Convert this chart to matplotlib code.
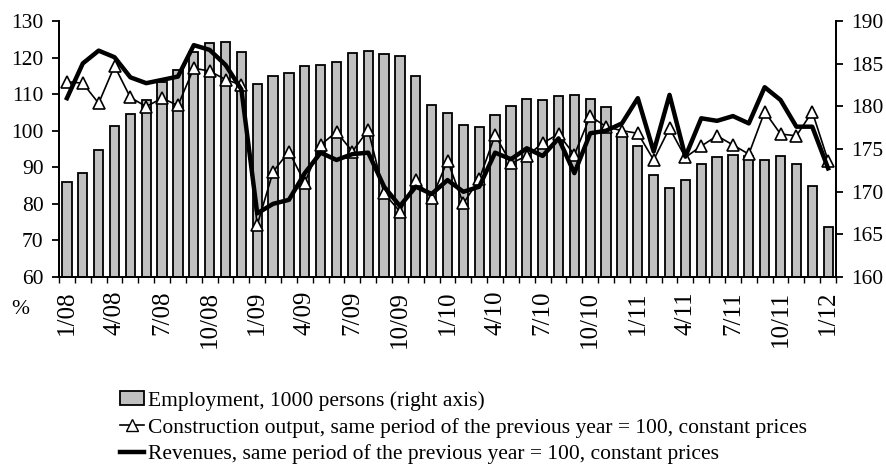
import matplotlib.pyplot as plt
import numpy as np
from matplotlib.patches import Patch
from matplotlib.lines import Line2D

plt.rcParams['font.family'] = ['Liberation Serif', 'DejaVu Serif']

# months 1/08 .. 1/12
months = [f"{m}/{y:02d}" for y in range(8, 12) for m in range(1, 13)] + ["1/12"]

# employment, 1000 persons (right axis)
employment = [171.1, 172.2, 174.9, 177.7, 179.1, 180.7, 182.9, 184.3, 186.4, 187.4,
              187.5, 186.4, 182.6, 183.5, 183.9, 184.7, 184.8, 185.2, 186.2, 186.5,
              186.1, 185.9, 183.6, 180.2, 179.2, 177.8, 177.6, 179.0, 180.0, 180.9,
              180.8, 181.2, 181.3, 180.9, 179.9, 176.7, 175.4, 172.0, 170.4, 171.4,
              173.2, 174.1, 174.3, 174.2, 173.7, 174.2, 173.2, 170.7, 165.9]

# construction output, same period previous year = 100
construction = [113.4, 113.0, 107.5, 117.7, 109.1, 106.6, 108.9, 106.9, 117.1, 116.3,
                114.0, 112.5, 74.2, 88.8, 94.3, 85.8, 96.1, 99.7, 94.3, 100.2,
                82.9, 77.9, 86.5, 81.5, 91.8, 80.1, 86.7, 98.8, 91.1, 93.1,
                96.6, 99.1, 93.4, 104.0, 101.1, 100.0, 99.3, 92.0, 100.7, 92.7,
                95.8, 98.6, 96.1, 93.6, 105.2, 99.1, 98.6, 105.2, 91.8]

# revenues, same period previous year = 100
revenues = [108.9, 118.4, 121.9, 120.1, 114.6, 113.0, 113.9, 114.8, 123.4, 122.1,
            118.0, 111.3, 77.4, 80.0, 81.1, 88.4, 94.0, 92.0, 93.6, 94.0,
            84.7, 79.4, 84.7, 82.7, 86.5, 83.3, 84.7, 94.0, 92.2, 95.2,
            93.1, 97.9, 88.4, 99.3, 100.0, 102.0, 108.9, 94.3, 109.8, 92.9,
            103.4, 102.7, 104.0, 102.0, 111.9, 108.4, 101.1, 101.1, 89.7]

x = np.arange(len(months))

fig = plt.figure(figsize=(8.86, 4.73), dpi=100)
ax = fig.add_axes([0.0666, 0.4144, 0.877, 0.5412])
ax2 = ax.twinx()

ax2.bar(x, employment, width=0.58, color='#c0c0c0', edgecolor='black', linewidth=1.3)
ax2.set_ylim(160, 190)
ax2.set_yticks(range(160, 191, 5))

ax.plot(x, construction, color='black', linewidth=1.2, marker='^', markersize=8.5,
        markerfacecolor='white', markeredgecolor='black', markeredgewidth=1.2)
ax.plot(x, revenues, color='black', linewidth=3.2)
ax.set_ylim(60, 130)
ax.set_yticks(range(60, 131, 10))
ax.set_xlim(-0.5, len(months) - 0.5)

ax.set_zorder(ax2.get_zorder() + 1)
ax.patch.set_visible(False)

for a in (ax, ax2):
    a.spines['top'].set_visible(False)
    for s in a.spines.values():
        s.set_linewidth(1.3)

ax.set_xticks(x[::3])
ax.set_xticklabels(months[::3], rotation=90, fontsize=18)
ax.set_xticks(np.arange(-0.5, len(months), 1), minor=True)
ax.tick_params(axis='x', which='major', length=0, pad=10)
ax.tick_params(axis='x', which='minor', length=4, width=1)
ax.tick_params(axis='y', labelsize=15.5, length=5, width=1.3, pad=6)
ax2.tick_params(axis='y', labelsize=15.5, length=5, width=1.3, pad=6)

fig.text(0.0226, 0.3467, '%', fontsize=15.5, ha='center', va='center')

handles = [
    Patch(facecolor='#c0c0c0', edgecolor='black', linewidth=1.3),
    Line2D([], [], color='black', linewidth=1.2, marker='^', markersize=8.5,
           markerfacecolor='white', markeredgecolor='black'),
    Line2D([], [], color='black', linewidth=3.2),
]
labels = [
    'Employment, 1000 persons (right axis)',
    'Construction output, same period of the previous year = 100, constant prices',
    'Revenues, same period of the previous year = 100, constant prices',
]
fig.legend(handles, labels, loc='upper left', bbox_to_anchor=(0.1354, 0.173),
           frameon=False, fontsize=15.5, handlelength=1.1, handleheight=0.6,
           handletextpad=0.2, labelspacing=0.32, borderaxespad=0, borderpad=0)

fig.savefig('out.png', dpi=100)
